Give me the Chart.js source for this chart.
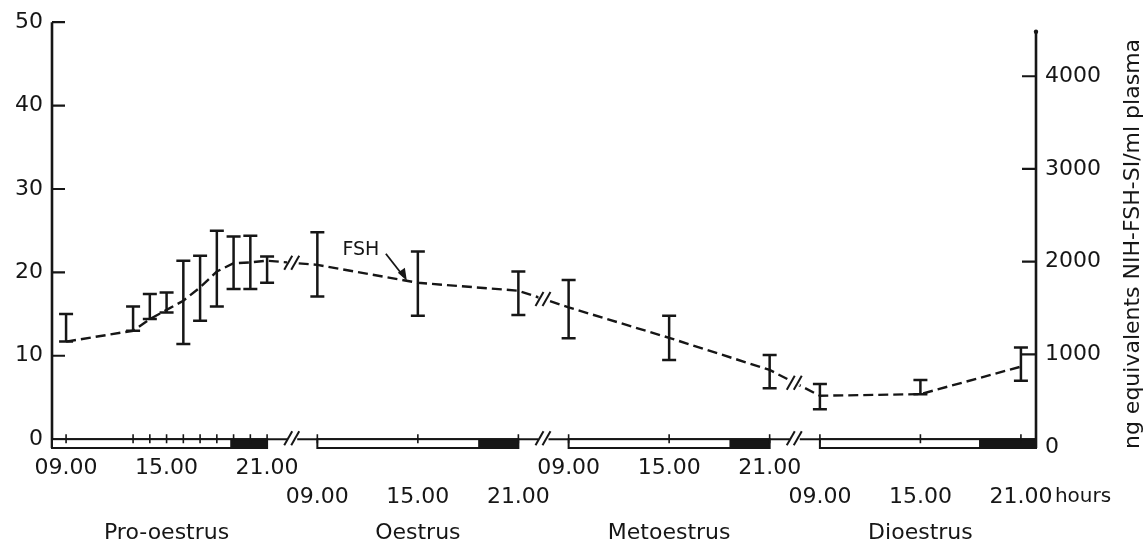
<!DOCTYPE html>
<html>
<head>
<meta charset="utf-8">
<title>FSH through the oestrous cycle</title>
<script src="https://cdn.jsdelivr.net/npm/chart.js@4.4.1/dist/chart.umd.min.js"></script>
<style>
    html, body { margin: 0; padding: 0; background: #fff; }
    canvas { display: block; }
</style>
</head>
<body>
<canvas id="fshChart" width="1145" height="547"></canvas>
<script>
// time on a broken axis: day * 15 + (clock hour - 9), so each day shows 09.00-21.00
const sampleTimes = [0, 4, 5, 6, 7, 8, 9, 10, 11, 12, 15, 21, 27, 30, 36, 42, 45, 51, 57];
const fshMean = [11.7, 13.0, 14.4, 15.5, 16.6, 18.2, 20.1, 21.1, 21.2, 21.4, 20.9, 18.75, 17.8, 15.8, 12.15, 8.3, 5.2, 5.4, 8.7];
const fshHigh = [15.0, 15.9, 17.4, 17.6, 21.4, 22.0, 25.0, 24.3, 24.4, 21.9, 24.8, 22.5, 20.1, 19.1, 14.8, 10.1, 6.6, 7.1, 11.0];
const fshLow = [11.7, 13.0, 14.4, 15.2, 11.4, 14.2, 15.9, 18.0, 18.0, 18.75, 17.1, 14.8, 14.9, 12.1, 9.5, 6.1, 3.6, 5.4, 7.0];

const phases = ['Pro-oestrus', 'Oestrus', 'Metoestrus', 'Dioestrus'];
const dayStart = [0, 15, 30, 45];
const clockLabels = ['09.00', '15.00', '21.00'];
const clockOffsets = [0, 6, 12];
const darkFrom = [9.8, 9.6, 9.6, 9.5];   // lights off, hours after 09.00
const axisBreaks = [13.5, 28.5, 43.5];

const leftTicks = [0, 10, 20, 30, 40, 50];
const rightTicks = [0, 1000, 2000, 3000, 4000];
const rightTitle = 'ng equivalents NIH-FSH-SI/ml plasma';

const INK = '#161616';
const FONT = 'DejaVu Sans';

Chart.defaults.font.family = FONT;
Chart.defaults.color = INK;

function drawSlashes(ctx, cx, cy) {
    ctx.save();
    ctx.fillStyle = '#fff';
    ctx.fillRect(cx - 5, cy - 3, 10, 6);
    ctx.lineWidth = 2;
    [-4, 3].forEach(dx => {
        ctx.beginPath();
        ctx.moveTo(cx + dx - 4, cy + 7);
        ctx.lineTo(cx + dx + 4, cy - 7);
        ctx.stroke();
    });
    ctx.restore();
}

const fshDecor = {
    id: 'fshDecor',
    afterDraw(chart) {
        const { ctx, chartArea: a, scales } = chart;
        const x = scales.x, y = scales.y, y2 = scales.y2;
        ctx.save();
        ctx.strokeStyle = INK;
        ctx.fillStyle = INK;
        ctx.lineWidth = 2.5;

        // error bars
        sampleTimes.forEach((t, i) => {
            const px = x.getPixelForValue(t);
            const top = y.getPixelForValue(fshHigh[i]);
            const bot = y.getPixelForValue(fshLow[i]);
            ctx.beginPath();
            ctx.moveTo(px, top); ctx.lineTo(px, bot);
            ctx.moveTo(px - 7, top); ctx.lineTo(px + 7, top);
            ctx.moveTo(px - 7, bot); ctx.lineTo(px + 7, bot);
            ctx.stroke();
        });

        // breaks on the data line
        axisBreaks.forEach(b => {
            const j = sampleTimes.findIndex(t => t > b);
            const x0 = x.getPixelForValue(sampleTimes[j - 1]), x1 = x.getPixelForValue(sampleTimes[j]);
            const y0 = y.getPixelForValue(fshMean[j - 1]), y1 = y.getPixelForValue(fshMean[j]);
            const bx = x.getPixelForValue(b);
            drawSlashes(ctx, bx, y0 + (y1 - y0) * (bx - x0) / (x1 - x0));
        });

        // axes
        const zeroY = y.getPixelForValue(0);
        ctx.lineWidth = 2.6;
        ctx.beginPath();
        ctx.moveTo(a.left, y.getPixelForValue(50)); ctx.lineTo(a.left, a.bottom);
        ctx.moveTo(a.right, y2.getPixelForValue(4480)); ctx.lineTo(a.right, a.bottom);
        ctx.stroke();
        ctx.lineWidth = 2.2;
        ctx.beginPath();
        leftTicks.slice(1).forEach(v => {
            const py = y.getPixelForValue(v);
            ctx.moveTo(a.left, py); ctx.lineTo(a.left + 13, py);
        });
        rightTicks.slice(1).forEach(v => {
            const py = y2.getPixelForValue(v);
            ctx.moveTo(a.right - 14, py); ctx.lineTo(a.right, py);
        });
        ctx.stroke();
        ctx.beginPath();
        ctx.arc(a.right, y2.getPixelForValue(4480), 2.2, 0, Math.PI * 2);
        ctx.fill();

        // time base with light / dark bars
        ctx.lineWidth = 2;
        ctx.beginPath();
        ctx.moveTo(a.left, zeroY); ctx.lineTo(a.right, zeroY);
        ctx.stroke();
        dayStart.forEach((d, i) => {
            const xs = i === 0 ? a.left : x.getPixelForValue(d);
            const xe = i === dayStart.length - 1 ? a.right : x.getPixelForValue(d + 12);
            const xd = x.getPixelForValue(d + darkFrom[i]);
            ctx.fillStyle = '#fff';
            ctx.fillRect(xs, zeroY, xe - xs, a.bottom - zeroY);
            ctx.fillStyle = INK;
            ctx.fillRect(xd, zeroY, xe - xd, a.bottom - zeroY);
            ctx.strokeRect(xs, zeroY, xe - xs, a.bottom - zeroY);
        });
        ctx.lineWidth = 1.6;
        ctx.beginPath();
        sampleTimes.forEach(t => {
            const px = x.getPixelForValue(t);
            ctx.moveTo(px, zeroY - 5); ctx.lineTo(px, zeroY + 4);
        });
        ctx.stroke();
        axisBreaks.forEach(b => drawSlashes(ctx, x.getPixelForValue(b), zeroY - 1));

        // time labels, staggered rows, and phase names
        ctx.font = '22px ' + FONT;
        ctx.textAlign = 'center';
        ctx.textBaseline = 'middle';
        ctx.fillStyle = INK;
        dayStart.forEach((d, i) => {
            const rowY = a.bottom + (i % 2 === 0 ? 20 : 49);
            clockLabels.forEach((lab, k) => {
                ctx.fillText(lab, x.getPixelForValue(d + clockOffsets[k]), rowY);
            });
            ctx.fillText(phases[i], x.getPixelForValue(d + 6), a.bottom + 85);
        });
        const last = dayStart[dayStart.length - 1] + 12;
        ctx.textAlign = 'left';
        ctx.font = '20px ' + FONT;
        ctx.fillText('hours', x.getPixelForValue(last) + 34, a.bottom + 49);

        // FSH label with arrow
        const fx = x.getPixelForValue(sampleTimes[11]);
        const fy = y.getPixelForValue(fshMean[11]);
        ctx.font = '19px ' + FONT;
        ctx.textAlign = 'center';
        ctx.fillText('FSH', fx - 57, fy - 33);
        ctx.lineWidth = 1.8;
        ctx.beginPath();
        ctx.moveTo(fx - 32, fy - 29); ctx.lineTo(fx - 14, fy - 6);
        ctx.stroke();
        ctx.beginPath();
        ctx.moveTo(fx - 11, fy - 2);
        ctx.lineTo(fx - 20, fy - 10);
        ctx.lineTo(fx - 13, fy - 15);
        ctx.closePath();
        ctx.fill();

        // right axis title, reading upwards
        ctx.save();
        ctx.translate(1133, 244);
        ctx.rotate(-Math.PI / 2);
        ctx.font = '22px ' + FONT;
        ctx.textAlign = 'center';
        ctx.fillText(rightTitle, 0, 0);
        ctx.restore();

        ctx.restore();
    }
};

new Chart(document.getElementById('fshChart'), {
    type: 'line',
    data: {
        datasets: [{
            label: 'FSH',
            data: sampleTimes.map((t, i) => ({ x: t, y: fshMean[i] })),
            borderColor: INK,
            borderWidth: 2.4,
            borderDash: [10, 5],
            pointRadius: 0,
            tension: 0,
            fill: false,
            yAxisID: 'y'
        }]
    },
    options: {
        responsive: false,
        animation: false,
        layout: { padding: { top: 15, bottom: 99, left: 0, right: 0 } },
        plugins: { legend: { display: false }, tooltip: { enabled: false } },
        scales: {
            x: {
                type: 'linear',
                min: -0.84,
                max: 57.9,
                display: false
            },
            y: {
                position: 'left',
                min: -1.06,
                max: 50,
                afterBuildTicks: s => { s.ticks = leftTicks.map(v => ({ value: v })); },
                afterFit: s => { s.width = 52; },
                grid: { display: false, drawTicks: false },
                border: { display: false },
                ticks: { padding: 9, font: { size: 22 }, color: INK, callback: v => String(v) }
            },
            y2: {
                position: 'right',
                min: -10.6,
                max: 4583,
                afterBuildTicks: s => { s.ticks = rightTicks.map(v => ({ value: v })); },
                afterFit: s => { s.width = 109; },
                grid: { display: false, drawTicks: false },
                border: { display: false },
                ticks: { padding: 9, font: { size: 22 }, color: INK, callback: v => String(v) }
            }
        }
    },
    plugins: [fshDecor]
});
</script>
</body>
</html>
